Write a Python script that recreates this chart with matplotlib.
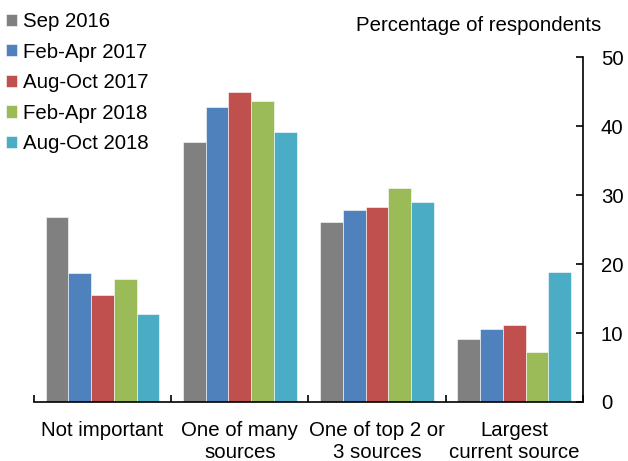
import matplotlib
matplotlib.use("Agg")
import matplotlib.pyplot as plt
import numpy as np

plt.rcParams['font.family'] = ['Liberation Sans', 'DejaVu Sans']

categories = ["Not important", "One of many\nsources", "One of top 2 or\n3 sources", "Largest\ncurrent source"]
series = ["Sep 2016", "Feb-Apr 2017", "Aug-Oct 2017", "Feb-Apr 2018", "Aug-Oct 2018"]
sep_2016 = [26.8, 37.7, 26.1, 9.1]
feb_apr_2017 = [18.7, 42.8, 27.8, 10.6]
aug_oct_2017 = [15.5, 44.9, 28.3, 11.2]
feb_apr_2018 = [17.8, 43.6, 31.0, 7.2]
aug_oct_2018 = [12.8, 39.1, 29.0, 18.8]
values = [sep_2016, feb_apr_2017, aug_oct_2017, feb_apr_2018, aug_oct_2018]
colors = ["#808080", "#4F81BD", "#C0504D", "#9BBB59", "#4BACC6"]

fs = 14.7

fig = plt.figure(figsize=(6.28, 4.61), dpi=100)
ax = fig.add_axes([0.054, 0.128, 0.874, 0.748])

x = np.arange(len(categories))
w = 0.166
for i, (name, vals) in enumerate(zip(series, values)):
    ax.bar(x + (i - 2) * w, vals, w, color=colors[i], label=name,
           edgecolor="white", linewidth=0.4)

ax.set_xlim(-0.5, len(categories) - 0.5)
ax.set_ylim(0, 50)
ax.yaxis.tick_right()
ax.set_yticks([0, 10, 20, 30, 40, 50])
ax.tick_params(axis='y', direction='in', length=5, width=1.2, labelsize=fs, pad=13)
ax.set_xticks(x)
ax.set_xticklabels(categories)
ax.set_xticks(np.arange(-0.5, len(categories)), minor=True)
ax.tick_params(axis='x', which='major', length=0, labelsize=fs, pad=14)
ax.tick_params(axis='x', which='minor', direction='in', length=5, width=1.2)
for s in ['top', 'left']:
    ax.spines[s].set_visible(False)
ax.spines['right'].set_linewidth(1.2)
ax.spines['bottom'].set_linewidth(1.2)

fig.text(0.958, 0.945, "Percentage of respondents", ha='right', va='center', fontsize=fs)

ax.legend(loc='upper left', bbox_to_anchor=(-0.066, 1.155), frameon=False,
          fontsize=fs, handlelength=0.55, handleheight=0.55, handletextpad=0.3,
          labelspacing=0.57, borderaxespad=0)

fig.savefig("out.png", dpi=100)
